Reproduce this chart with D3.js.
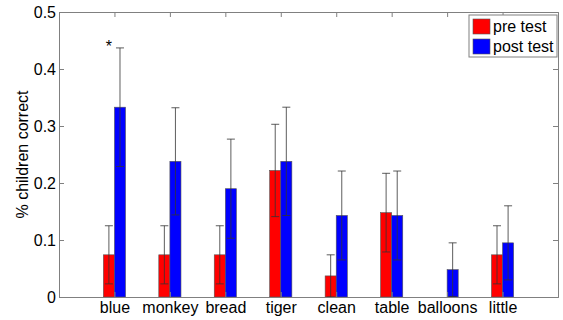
<!DOCTYPE html>
<html>
<head>
<meta charset="utf-8">
<script src="https://cdn.jsdelivr.net/npm/d3@7"></script>
<style>
  body { margin: 0; background: #fff; }
  text { font-family: "Liberation Sans", Arial, sans-serif; }
</style>
</head>
<body>
<div id="chart"></div>
<script>
// data
var words = ["blue", "monkey", "bread", "tiger", "clean", "table", "balloons", "little"];
var preTest = [0.074, 0.074, 0.074, 0.222, 0.037, 0.148, 0, 0.074];
var postTest = [0.333, 0.238, 0.190, 0.238, 0.143, 0.143, 0.048, 0.095];
var preErr = [0.051, 0.051, 0.051, 0.081, 0.037, 0.069, 0, 0.051];
var postErr = [0.104, 0.094, 0.087, 0.095, 0.078, 0.078, 0.047, 0.065];
var yTicks = [0, 0.1, 0.2, 0.3, 0.4, 0.5];
var seriesNames = ["pre test", "post test"];
var seriesColors = ["#ff0000", "#0000ff"];

var svgWidth = 563;
var svgHeight = 320;
var margin = { top: 12, right: 5, bottom: 23, left: 59 };
var width = svgWidth - margin.left - margin.right;
var height = svgHeight - margin.top - margin.bottom;

var svg = d3.select("#chart")
  .append("svg")
  .attr("width", svgWidth)
  .attr("height", svgHeight);

var chartGroup = svg.append("g")
  .attr("transform", `translate(${margin.left}, ${margin.top})`);

// scales: categories at 1..8, limits 0..9
var xScale = d3.scaleLinear().domain([0, 9]).range([0, width]);
var yScale = d3.scaleLinear().domain([0, 0.5]).range([height, 0]);

var barW = 0.2;
var axisColor = "#808080";

// axes, inward ticks
var bottomAxis = d3.axisBottom(xScale).tickValues(d3.range(1, 9)).tickSize(-5).tickFormat((d, i) => words[i]).tickPadding(5);
var topAxis = d3.axisTop(xScale).tickValues(d3.range(1, 9)).tickSize(-5).tickFormat("");
var leftAxis = d3.axisLeft(yScale).tickValues(yTicks).tickSize(-5).tickPadding(3).tickFormat(d => d === 0 ? "0" : d3.format(".1f")(d));
var rightAxis = d3.axisRight(yScale).tickValues(yTicks).tickSize(-5).tickFormat("");

function styleAxis(g) {
  g.select(".domain").attr("stroke", axisColor);
  g.selectAll(".tick line").attr("stroke", axisColor);
  g.selectAll(".tick text").attr("fill", "#000").style("font-size", "16px").style("font-family", "Liberation Sans, Arial, sans-serif");
}

// bars
[preTest, postTest].forEach(function(series, s) {
  var off = s === 0 ? -barW / 2 : barW / 2;
  chartGroup.selectAll(".bar" + s)
    .data(series)
    .enter()
    .append("rect")
    .attr("class", "bar" + s)
    .attr("x", (d, i) => xScale(i + 1 + off - barW / 2))
    .attr("width", xScale(barW) - xScale(0))
    .attr("y", d => yScale(d))
    .attr("height", d => yScale(0) - yScale(d))
    .attr("fill", seriesColors[s])
    .attr("stroke", "#555")
    .attr("stroke-width", 0.6)
    .style("display", d => d > 0 ? null : "none");
});

// error bars
[[preTest, preErr], [postTest, postErr]].forEach(function(pair, s) {
  var off = s === 0 ? -barW / 2 : barW / 2;
  var vals = pair[0], errs = pair[1];
  var eb = chartGroup.selectAll(".err" + s)
    .data(words.map((w, i) => ({ i: i, v: vals[i], e: errs[i] })).filter(d => d.e > 0))
    .enter()
    .append("g")
    .attr("class", "err" + s)
    .attr("stroke", "#333")
    .attr("stroke-width", 0.8);
  eb.append("line")
    .attr("x1", d => xScale(d.i + 1 + off)).attr("x2", d => xScale(d.i + 1 + off))
    .attr("y1", d => yScale(d.v - d.e)).attr("y2", d => yScale(d.v + d.e));
  eb.append("line")
    .attr("x1", d => xScale(d.i + 1 + off) - 4).attr("x2", d => xScale(d.i + 1 + off) + 4)
    .attr("y1", d => yScale(d.v + d.e)).attr("y2", d => yScale(d.v + d.e));
  eb.append("line")
    .attr("x1", d => xScale(d.i + 1 + off) - 4).attr("x2", d => xScale(d.i + 1 + off) + 4)
    .attr("y1", d => yScale(d.v - d.e)).attr("y2", d => yScale(d.v - d.e));
});

// axes on top of bars
chartGroup.append("g").attr("transform", `translate(0, ${height})`).call(bottomAxis).call(styleAxis);
chartGroup.append("g").call(topAxis).call(styleAxis);
chartGroup.append("g").call(leftAxis).call(styleAxis);
chartGroup.append("g").attr("transform", `translate(${width}, 0)`).call(rightAxis).call(styleAxis);

// significance star
chartGroup.append("text")
  .attr("x", xScale(1 - barW / 2))
  .attr("y", yScale(0.43))
  .style("font-size", "16px")
  .style("text-anchor", "middle")
  .text("*");

// y label
chartGroup.append("text")
  .attr("transform", "rotate(-90)")
  .attr("x", -height / 2)
  .attr("y", -31)
  .style("font-size", "16px")
  .style("text-anchor", "middle")
  .text("% children correct");

// legend
var legend = svg.append("g").attr("transform", "translate(469, 15)");
legend.append("rect")
  .attr("width", 88).attr("height", 42)
  .attr("fill", "#fff").attr("stroke", axisColor);
seriesNames.forEach(function(name, s) {
  legend.append("rect")
    .attr("x", 4).attr("y", 4 + s * 20)
    .attr("width", 17).attr("height", 15)
    .attr("fill", seriesColors[s]).attr("stroke", "#555").attr("stroke-width", 0.6);
  legend.append("text")
    .attr("x", 24).attr("y", 17 + s * 20)
    .style("font-size", "16px")
    .text(name);
});
</script>
</body>
</html>
